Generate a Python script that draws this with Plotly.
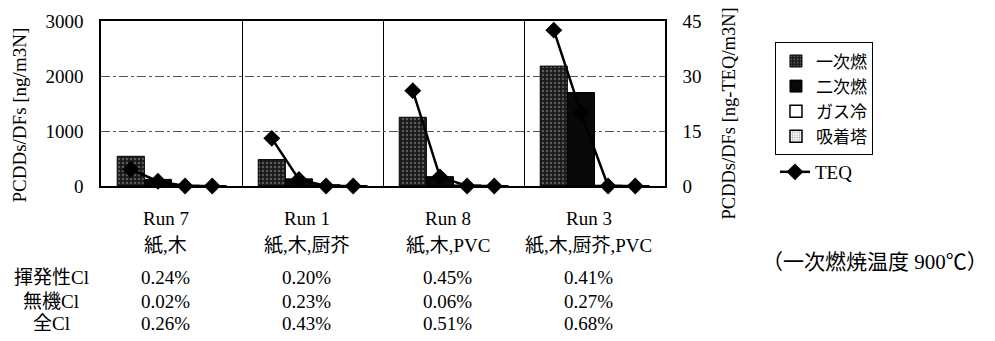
import plotly.graph_objects as go

# ---------------- data ----------------
runs = ["Run 7", "Run 1", "Run 8", "Run 3"]
materials = ["紙,木", "紙,木,厨芥", "紙,木,PVC", "紙,木,厨芥,PVC"]
stages = ["一次燃", "二次燃", "ガス冷", "吸着塔"]

primary = [540, 480, 1250, 2180]      # 一次燃
secondary = [120, 130, 170, 1700]     # 二次燃
gas_cool = [10, 20, 15, 10]           # ガス冷
adsorb = [5, 5, 5, 5]                 # 吸着塔

teq_run7 = [4.5, 1.3, 0, 0]
teq_run1 = [13.0, 1.8, 0, 0]
teq_run8 = [26.0, 2.5, 0, 0]
teq_run3 = [42.5, 20.0, 0, 0]

row_labels = ["揮発性Cl", "無機Cl", "全Cl"]
volatile_cl = ["0.24%", "0.20%", "0.45%", "0.41%"]
inorganic_cl = ["0.02%", "0.23%", "0.06%", "0.27%"]
total_cl = ["0.26%", "0.43%", "0.51%", "0.68%"]

left_ticks = [0, 1000, 2000, 3000]
right_ticks = [0, 15, 30, 45]

note = "（一次燃焼温度 900℃）"

# ---------------- figure ----------------
SERIF = "Liberation Serif, Noto Sans CJK JP"
BARGAP = 0.23
n_st = len(stages)
bw = (1 - BARGAP) / n_st
offsets = [-(1 - BARGAP) / 2 + bw * (j + 0.5) for j in range(n_st)]
gx = list(range(len(runs)))

fig = go.Figure()

bar_series = [primary, secondary, gas_cool, adsorb]
bar_styles = [
    dict(color="#1a1a1a", line=dict(color="black", width=1),
         pattern=dict(shape=".", fgcolor="#9a9a9a", bgcolor="#1a1a1a", size=4, solidity=0.3)),
    dict(color="#080808", line=dict(color="black", width=1)),
    dict(color="white", line=dict(color="black", width=1.5)),
    dict(color="white", line=dict(color="black", width=1.5),
         pattern=dict(shape=".", fgcolor="#444", bgcolor="white", size=3, solidity=0.3)),
]
for name, vals, mk in zip(stages, bar_series, bar_styles):
    fig.add_trace(go.Bar(x=gx, y=vals, name=name, marker=mk, legend="legend"))

# TEQ line: one segment per run, points at bar centres
teq_all = [teq_run7, teq_run1, teq_run8, teq_run3]
tx, ty = [], []
for g, seg in zip(gx, teq_all):
    for j, v in enumerate(seg):
        tx.append(g + offsets[j])
        ty.append(v)
    tx.append(None)
    ty.append(None)
fig.add_trace(go.Scatter(
    x=tx, y=ty, name="TEQ", yaxis="y2", mode="lines+markers",
    line=dict(color="black", width=2.5),
    marker=dict(symbol="diamond", size=13, color="black"),
    connectgaps=False, cliponaxis=False, legend="legend2"))

fig.update_layout(
    width=995, height=341,
    margin=dict(l=101, r=330, t=21, b=155),
    paper_bgcolor="white", plot_bgcolor="white",
    barmode="group", bargap=BARGAP, bargroupgap=0,
    font=dict(family=SERIF, size=18, color="black"),
    xaxis=dict(range=[-0.5, 3.5], tickvals=[0.5, 1.5, 2.5], showticklabels=False,
               ticks="", showgrid=True, gridcolor="black", gridwidth=1,
               showline=True, mirror=True, linecolor="black", linewidth=1.5,
               zeroline=False),
    yaxis=dict(range=[0, 3000], tickvals=left_ticks, ticks="",
               ticklabelstandoff=12, showgrid=True, gridcolor="#555",
               griddash="dashdot", gridwidth=1, zeroline=False,
               showline=True, mirror=True, linecolor="black", linewidth=1.5,
               tickfont=dict(family=SERIF, size=19)),
    yaxis2=dict(range=[0, 45], tickvals=right_ticks, overlaying="y", side="right",
                ticks="", ticklabelstandoff=12, showgrid=False, zeroline=False,
                showline=True, linecolor="black", linewidth=1.5,
                tickfont=dict(family=SERIF, size=19)),
    legend=dict(x=1.195, y=0.87, xanchor="left", yanchor="top",
                bordercolor="black", borderwidth=1, bgcolor="white",
                font=dict(family=SERIF, size=17), itemwidth=30,
                traceorder="normal"),
    legend2=dict(x=1.195, y=0.085, xanchor="left", yanchor="middle",
                 borderwidth=0, bgcolor="rgba(0,0,0,0)",
                 font=dict(family=SERIF, size=19), itemwidth=30),
    showlegend=True,
)

ann = []
# axis titles
ann.append(dict(text="PCDDs/DFs [ng/m3N]", xref="paper", yref="paper", x=0, y=0.5,
                xshift=-82, yshift=-12, textangle=-90, showarrow=False,
                font=dict(family=SERIF, size=19), xanchor="center", yanchor="middle"))
ann.append(dict(text="PCDDs/DFs [ng-TEQ/m3N]", xref="paper", yref="paper", x=1, y=0.5,
                xshift=63, yshift=-10, textangle=-90, showarrow=False,
                font=dict(family=SERIF, size=18.5), xanchor="center", yanchor="middle"))

# category table under the plot
rows = [runs, materials, volatile_cl, inorganic_cl, total_cl]
row_shift = [-32, -59, -91, -115, -137]
for r, ys in zip(rows, row_shift):
    for g, txt in zip(gx, r):
        ann.append(dict(text=txt, xref="x", yref="paper", x=g, y=0, xshift=-6,
                        yshift=ys, showarrow=False, xanchor="center", yanchor="middle",
                        font=dict(family=SERIF, size=19)))
for lbl, ys in zip(row_labels, row_shift[2:]):
    ann.append(dict(text=lbl, xref="paper", yref="paper", x=0, y=0, xshift=-50,
                    yshift=ys, showarrow=False, xanchor="center", yanchor="middle",
                    font=dict(family=SERIF, size=19)))

ann.append(dict(text=note, xref="paper", yref="paper", x=1, y=0, xshift=210, yshift=-76,
                showarrow=False, xanchor="center", yanchor="middle",
                font=dict(family=SERIF, size=21)))
fig.update_layout(annotations=ann)

fig.write_html("out.html")
